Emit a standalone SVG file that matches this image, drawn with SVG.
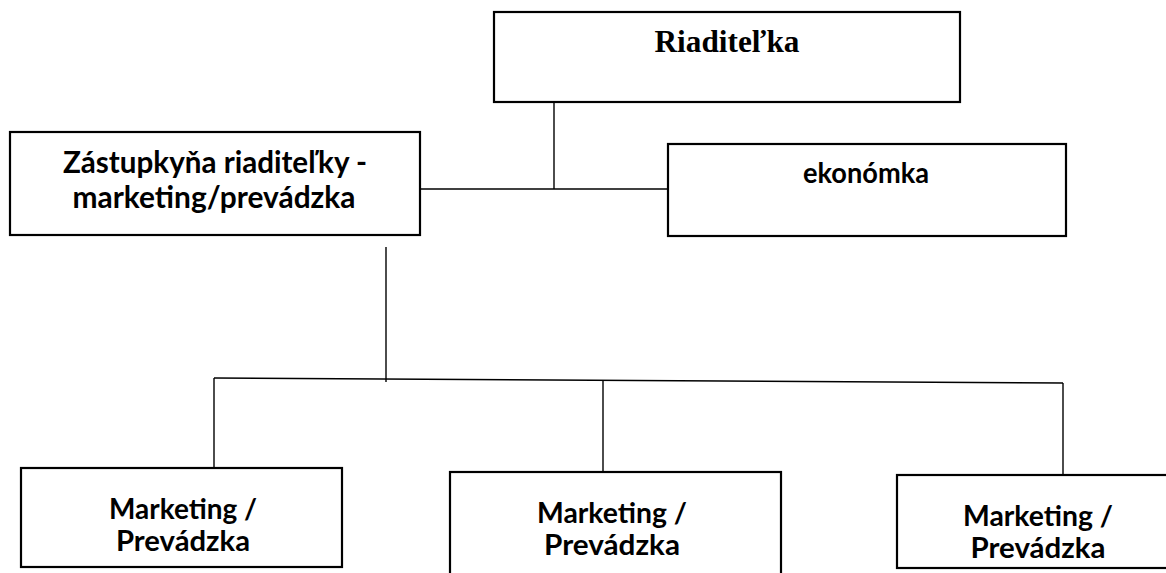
<svg xmlns="http://www.w3.org/2000/svg" width="1166" height="573" viewBox="0 0 1166 573">
<style>
.box{fill:#fff;stroke:#000;stroke-width:2.2}
.ln{stroke:#000;stroke-width:1.4;fill:none}
.t{font-family:Lato,"Open Sans","Liberation Sans",sans-serif;font-weight:bold;fill:#000;text-anchor:middle}
.s{font-family:"Liberation Serif","Times New Roman",serif;font-weight:bold;fill:#000;text-anchor:middle}
</style>
<rect width="1166" height="573" fill="#fff"/>
<g id="connectors">
<line class="ln" x1="554" y1="102" x2="554" y2="189"/>
<line class="ln" x1="420" y1="189" x2="668" y2="189"/>
<line class="ln" x1="386" y1="247" x2="386" y2="382"/>
<line class="ln" x1="214" y1="378" x2="1063" y2="383"/>
<line class="ln" x1="214" y1="378" x2="214" y2="468"/>
<line class="ln" x1="603" y1="381" x2="603" y2="472"/>
<line class="ln" x1="1063" y1="383" x2="1063" y2="475"/>
</g>
<g id="riaditelka">
<rect class="box" x="494" y="12" width="466" height="90"/>
<text class="s" x="727" y="52" font-size="31" textLength="145" lengthAdjust="spacingAndGlyphs">Riaditeľka</text>
</g>
<g id="zastupkyna">
<rect class="box" x="10" y="132" width="410" height="103"/>
<text class="t" x="215" y="173" font-size="30" textLength="304" lengthAdjust="spacingAndGlyphs">Zástupkyňa riaditeľky -</text>
<text class="t" x="214" y="208" font-size="30" textLength="283" lengthAdjust="spacingAndGlyphs">marketing/prevádzka</text>
</g>
<g id="ekonomka">
<rect class="box" x="668" y="144" width="398" height="92"/>
<text class="t" x="866" y="183" font-size="28" textLength="126" lengthAdjust="spacingAndGlyphs">ekonómka</text>
</g>
<g id="mp1">
<rect class="box" x="21" y="468" width="321" height="99"/>
<text class="t" x="183" y="519" font-size="28" textLength="148" lengthAdjust="spacingAndGlyphs">Marketing /</text>
<text class="t" x="183" y="551" font-size="28" textLength="134" lengthAdjust="spacingAndGlyphs">Prevádzka</text>
</g>
<g id="mp2">
<rect class="box" x="450" y="472" width="331" height="110"/>
<text class="t" x="612" y="523" font-size="28" textLength="150" lengthAdjust="spacingAndGlyphs">Marketing /</text>
<text class="t" x="612" y="555" font-size="28" textLength="136" lengthAdjust="spacingAndGlyphs">Prevádzka</text>
</g>
<g id="mp3">
<rect class="box" x="897" y="475" width="280" height="93"/>
<text class="t" x="1038" y="526" font-size="28" textLength="150" lengthAdjust="spacingAndGlyphs">Marketing /</text>
<text class="t" x="1038" y="558" font-size="28" textLength="135" lengthAdjust="spacingAndGlyphs">Prevádzka</text>
</g>
</svg>
